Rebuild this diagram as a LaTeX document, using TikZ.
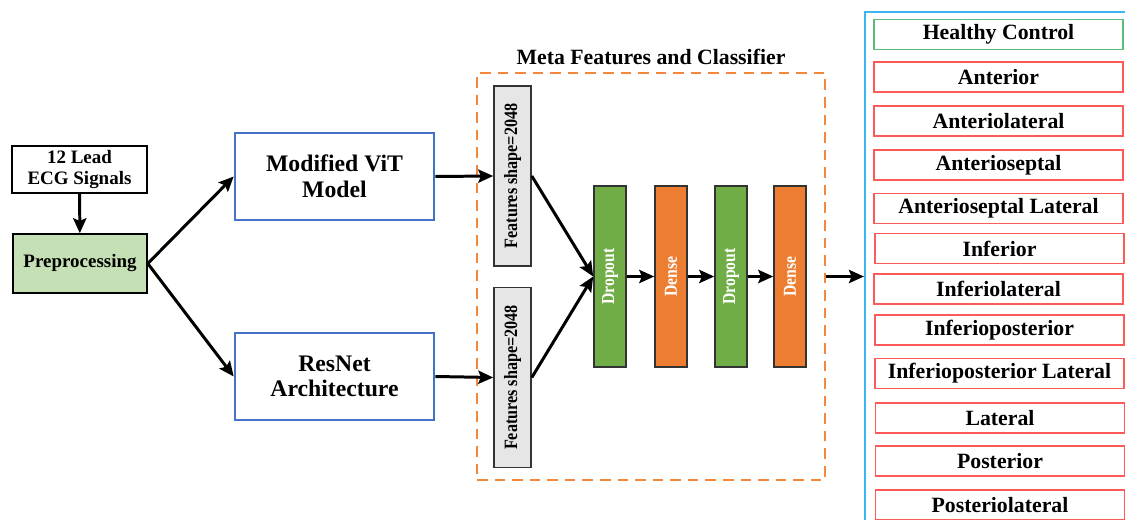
\documentclass[tikz,border=0pt]{standalone}
\usepackage{fontspec}
\setmainfont{Liberation Serif}
\usetikzlibrary{arrows.meta}
\definecolor{preg}{HTML}{C5E0B4}
\definecolor{vitblue}{HTML}{4472C4}
\definecolor{dropg}{HTML}{70AD47}
\definecolor{denseo}{HTML}{ED7D31}
\definecolor{featg}{HTML}{E7E6E6}
\definecolor{frameb}{HTML}{3DB5EE}
\definecolor{clsred}{HTML}{FF5A5A}
\definecolor{clsgreen}{HTML}{5DBB7D}
\definecolor{metaor}{HTML}{F4873A}
\newcommand{\vtext}[1]{\rotatebox{90}{\scalebox{0.86}[1]{#1}}}
\tikzset{
  flow/.style={line width=1.7pt,-{Stealth[length=8.5pt,width=7.5pt,inset=1.5pt]}},
  plainbox/.style={draw=black,line width=0.9pt,inner sep=0pt,align=center,font=\fontsize{10.8}{12.5}\selectfont\bfseries},
  modelbox/.style={draw=vitblue,line width=1.5pt,inner sep=0pt,align=center,minimum width=3.98cm,minimum height=1.74cm,font=\fontsize{13.5}{14.5}\selectfont\bfseries},
  featbox/.style={draw=black!80,fill=featg,line width=0.9pt,inner sep=0pt,minimum width=0.74cm,minimum height=3.6cm,font=\fontsize{10.7}{11}\selectfont\bfseries},
  layerbox/.style={draw=black!80,line width=0.9pt,inner sep=0pt,minimum width=0.64cm,minimum height=3.62cm,text=white,font=\fontsize{10.4}{11}\selectfont\bfseries},
  clsbox/.style={draw=clsred,line width=0.8pt,inner sep=0pt,minimum width=4.98cm,minimum height=0.6cm,font=\fontsize{12.4}{13}\selectfont\bfseries},
}
\begin{document}
\begin{tikzpicture}[x=0.02cm,y=-0.02cm]
\useasboundingbox (0,0) rectangle (1125,520);
\clip (0,0) rectangle (1125,520);
% left part
\node[plainbox,minimum width=2.70cm,minimum height=0.94cm] (ecg) at (79.5,169.5) {12 Lead\\ECG Signals};
\node[plainbox,fill=preg,minimum width=2.68cm,minimum height=1.18cm] (pre) at (80,263.5) {Preprocessing};
\node[modelbox] (vit) at (334.5,176.5) {Modified ViT\\Model};
\node[modelbox] (res) at (334.5,376.5) {ResNet\\Architecture};
% meta region
\node[draw=metaor,dashed,dash pattern=on 6pt off 4pt,line width=1.1pt,inner sep=0pt,minimum width=6.96cm,minimum height=8.14cm] (meta) at (651,276.5) {};
\node[font=\fontsize{12.4}{13}\selectfont\bfseries] (title) at (651,57) {Meta Features and Classifier};
\node[featbox] (f1) at (512.5,176) {\vtext{Features shape=2048}};
\node[featbox] (f2) at (512.5,377.5) {\vtext{Features shape=2048}};
\node[layerbox,fill=dropg] (do1) at (610,276.5) {\vtext{Dropout}};
\node[layerbox,fill=denseo] (de1) at (671,276.5) {\vtext{Dense}};
\node[layerbox,fill=dropg] (do2) at (731,276.5) {\vtext{Dropout}};
\node[layerbox,fill=denseo] (de2) at (790,276.5) {\vtext{Dense}};
% class frame
\node[draw=frameb,line width=1.3pt,inner sep=0pt,minimum width=5.6cm,minimum height=10.6cm] (frame) at (1005,277) {};
\node[clsbox,draw=clsgreen] (c1) at (998.5,34.5) {Healthy Control};
\node[clsbox] (c2) at (998.5,77) {Anterior};
\node[clsbox] (c3) at (998.5,121) {Anteriolateral};
\node[clsbox] (c4) at (998.5,165) {Anterioseptal};
\node[clsbox] (c5) at (998.5,208.5) {Anterioseptal Lateral};
\node[clsbox] (c6) at (999.5,248.5) {Inferior};
\node[clsbox] (c7) at (998.5,289) {Inferiolateral};
\node[clsbox] (c8) at (999.5,330) {Inferioposterior};
\node[clsbox] (c9) at (999.5,373.5) {Inferioposterior Lateral};
\node[clsbox] (c10) at (1000,418) {Lateral};
\node[clsbox] (c11) at (1000,461) {Posterior};
\node[clsbox] (c12) at (1000,505) {Posteriolateral};
% connectors
\draw[flow] (ecg) -- (pre);
\draw[flow] (pre.east) -- (vit.west);
\draw[flow] (pre.east) -- (res.west);
\draw[flow] (vit.east) -- (f1.west);
\draw[flow] (res.east) -- (f2.west);
\draw[flow] (f1.east) -- (do1.west);
\draw[flow] (f2.east) -- (do1.west);
\draw[flow] (do1) -- (de1);
\draw[flow] (de1) -- (do2);
\draw[flow] (do2) -- (de2);
\draw[flow] (meta.east) -- (frame.west |- meta.east);
\end{tikzpicture}
\end{document}
